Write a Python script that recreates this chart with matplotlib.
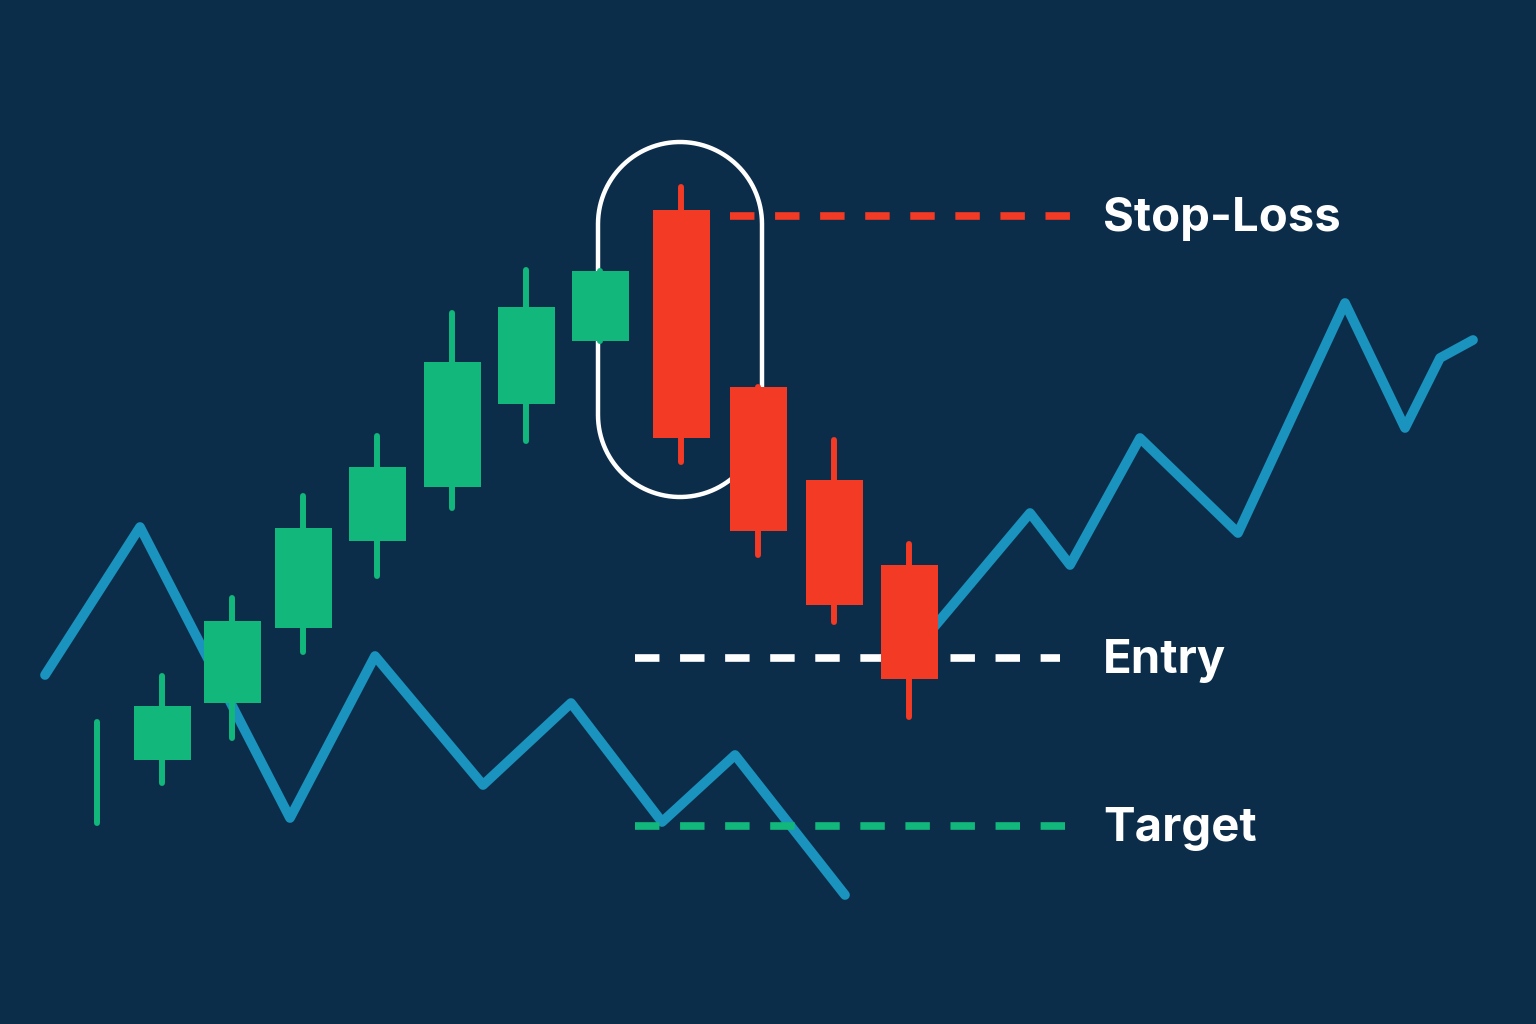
import numpy as np
import matplotlib.pyplot as plt
from matplotlib.patches import Polygon

# candles: x position, open, close, high, low (price units, up = higher)
candle_x = [97, 162, 232, 303, 377, 452, 526, 600, 681, 758, 834, 909]
opens = [250, 264, 321, 396, 483, 537, 620, 683, 814, 637, 544, 459]
closes = [250, 318, 403, 496, 557, 662, 717, 753, 586, 493, 419, 345]
highs = [302, 348, 426, 528, 588, 711, 754, 753, 837, 637, 584, 480]
lows = [201, 241, 286, 372, 448, 516, 583, 683, 562, 469, 402, 307]

# background price lines
line1_x = [45, 140, 290, 375, 483, 571, 662, 735, 845]
line1_y = [349, 497, 206, 368, 239, 321, 202, 269, 129]
line2_x = [930, 1030, 1070, 1140, 1238, 1345, 1405, 1440, 1473]
line2_y = [392, 511, 459, 586, 491, 721, 596, 666, 684]

# trade levels
level_names = ["Stop-Loss", "Entry", "Target"]
level_values = [808, 366, 198]
level_start = [730, 635, 635]
level_end = [1070, 1060, 1065]

BG = "#0c2d4a"
GREEN = "#12b77c"
RED = "#f23a24"
BLUE = "#1a94bf"
level_colors = [RED, "white", GREEN]

fig = plt.figure(figsize=(15.36, 10.24), dpi=100)
fig.patch.set_facecolor(BG)
ax = fig.add_axes([0, 0, 1, 1])
ax.set_facecolor(BG)
ax.set_xlim(0, 1536)
ax.set_ylim(0, 1024)
ax.axis("off")

ax.plot(line1_x, line1_y, color=BLUE, lw=7, solid_joinstyle="round",
        solid_capstyle="round", zorder=1)
ax.plot(line2_x, line2_y, color=BLUE, lw=7, solid_joinstyle="round",
        solid_capstyle="round", zorder=1)

# pill-shaped highlight around the big red candle
cx, r = 680, 82
top_c, bot_c = 800, 609
t = np.linspace(0, np.pi, 60)
top = np.column_stack([cx + r * np.cos(t), top_c + r * np.sin(t)])
bot = np.column_stack([cx - r * np.cos(t), bot_c - r * np.sin(t)])
pill = Polygon(np.vstack([top, bot]), closed=True, fill=False,
               edgecolor="white", lw=3.2, joinstyle="round", zorder=2)
ax.add_patch(pill)

for i, (name, val) in enumerate(zip(level_names, level_values)):
    z = 4 if name == "Target" else 2
    ax.plot([level_start[i], level_end[i]], [val, val], color=level_colors[i],
            lw=5.5, dashes=(3.2, 2.7), solid_capstyle="butt", zorder=z)
    ax.text(1103, val - 3, name, color="white", fontsize=34, fontweight="bold",
            family=["Inter", "DejaVu Sans"], va="center", ha="left", zorder=5)

width = 57
for x, o, c, h, l in zip(candle_x, opens, closes, highs, lows):
    col = GREEN if c >= o else RED
    ax.plot([x, x], [l, h], color=col, lw=4.3, solid_capstyle="round", zorder=3)
    if c != o:
        ax.bar(x, abs(c - o), bottom=min(o, c), width=width, color=col,
               linewidth=0, zorder=3)

fig.savefig("out.png", dpi=100, facecolor=BG)
